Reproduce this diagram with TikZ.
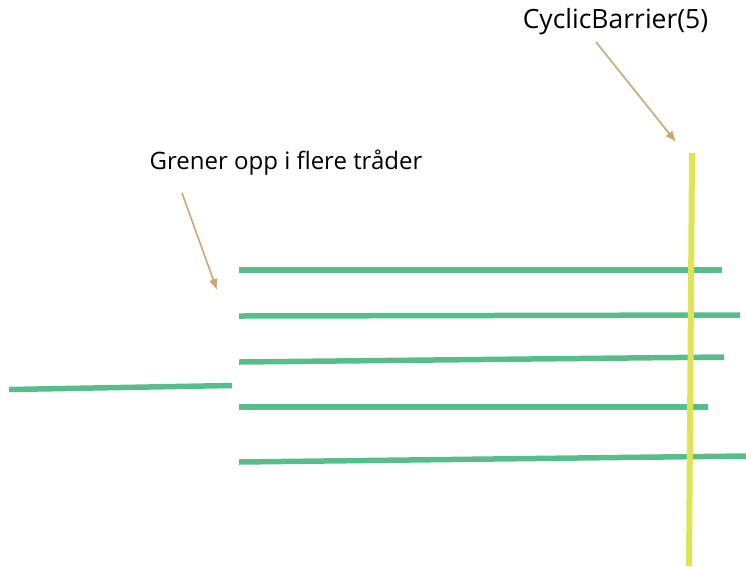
\documentclass[tikz,border=0pt]{standalone}
\usepackage{fontspec}
\setmainfont{Open Sans}
\usetikzlibrary{arrows.meta}
\definecolor{threadgreen}{HTML}{57BD8A}
\definecolor{barrieryellow}{HTML}{DDE555}
\definecolor{pointertan}{HTML}{CFA474}

\begin{document}
\begin{tikzpicture}[x=1pt,y=-1pt]
    \tikzstyle{every node}=[font=\fontsize{24}{28}\selectfont, inner sep=0pt]
    \tikzstyle{thread}=[draw=threadgreen, line width=5.5pt]
    \tikzstyle{barrier}=[draw=barrieryellow, line width=6pt]
    \tikzstyle{pointer}=[draw=pointertan, line width=1.6pt, -{Latex[length=11pt,width=9pt]}]
    \useasboundingbox (0,0) rectangle (746,566);
    \node[font=\fontsize{26.5}{30}\selectfont] (barriertext) at (615.5,22) {CyclicBarrier(5)};
    \node (forktext) at (286,163) {Grener opp i flere tråder};
    \coordinate (barrierfrom) at (596,42);
    \coordinate (barriertip) at (676,142);
    \coordinate (forkfrom) at (182,193);
    \coordinate (forktip) at (217,290);
    \draw[thread] (9,389.5) -- (232,385.5);
    \draw[thread] (239,270) -- (722,270);
    \draw[thread] (239,316) -- (740,315);
    \draw[thread] (239,362) -- (724,357);
    \draw[thread] (239,407) -- (708,407);
    \draw[thread] (239,462) -- (746,456);
    \draw[barrier] (692,153) -- (689,566);
    \draw[pointer] (barrierfrom) -- (barriertip);
    \draw[pointer] (forkfrom) -- (forktip);
\end{tikzpicture}
\end{document}
